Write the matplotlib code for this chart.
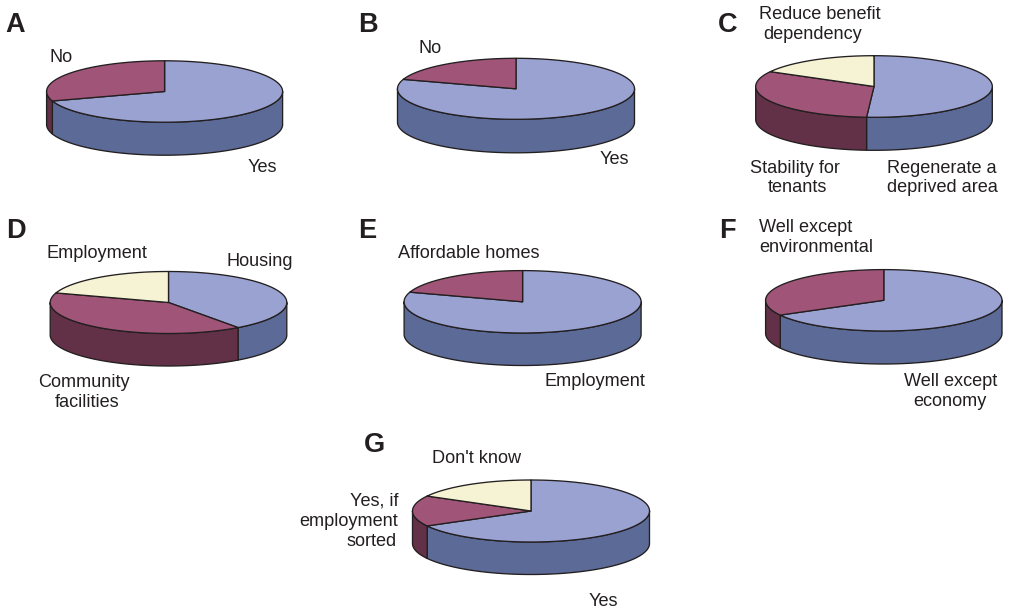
import numpy as np
import matplotlib
matplotlib.use("Agg")
import matplotlib.pyplot as plt

plt.rcParams["font.family"] = ["Liberation Sans", "DejaVu Sans"]

W, H = 1009, 610
INK = "#231f20"
TOP_COLOURS = ["#9aa2d2", "#a05578", "#f5f3d3"]
SIDE_COLOURS = ["#5b6a96", "#623147", "#c4c2a0"]

# Survey shares (percent) for each panel, clockwise from twelve o'clock
panel_names = ["A", "B", "C", "D", "E", "F", "G"]
values_a = [70, 30]
values_b = [80, 20]
values_c = [51, 32, 17]
values_d = [40, 40, 20]
values_e = [80, 20]
values_f = [67, 33]
values_g = [67, 16, 17]
all_values = [values_a, values_b, values_c, values_d, values_e, values_f, values_g]

# Pie placement in pixels: centre x, centre y, x radius, y radius, rim depth
pie_boxes = [
    (164.6, 91.5, 118, 30.7, 33),
    (516.0, 88.8, 118.5, 30.5, 33.5),
    (874.0, 86.5, 118.3, 30.8, 33),
    (168.5, 302.5, 118.3, 31, 32.5),
    (522.6, 301.8, 118.5, 31.2, 32.5),
    (883.8, 300.3, 118.2, 30.7, 33),
    (531.0, 511.0, 118.5, 31, 32.5),
]

# Panel letters: x, y in pixels
letter_spots = [(15, 25), (368, 25), (728, 25), (16, 231), (367, 231), (727, 231), (374, 445)]

# Slice labels, each drawn on its baseline: text, x, baseline y, horizontal alignment
slice_labels = [
    ("No", 61, 62, "center"),
    ("Yes", 262, 172.5, "center"),
    ("No", 430, 53, "center"),
    ("Yes", 614, 164, "center"),
    ("Reduce benefit", 820, 19.3, "center"),
    ("dependency", 813, 38.7, "center"),
    ("Stability for", 795, 173.3, "center"),
    ("tenants", 797, 191.7, "center"),
    ("Regenerate a", 942, 173.3, "center"),
    ("deprived area", 942, 191.7, "center"),
    ("Employment", 97, 258, "center"),
    ("Housing", 260, 266, "center"),
    ("Community", 84, 387.3, "center"),
    ("facilities", 87.5, 406.7, "center"),
    ("Affordable homes", 469, 258, "center"),
    ("Employment", 595, 386, "center"),
    ("Well except", 759, 232, "left"),
    ("environmental", 759, 252, "left"),
    ("Well except", 951, 386, "center"),
    ("economy", 950, 405.5, "center"),
    ("Don't know", 477, 463, "center"),
    ("Yes, if", 398, 506, "right"),
    ("employment", 398, 526, "right"),
    ("sorted", 397, 546, "right"),
    ("Yes", 603, 606, "center"),
]


def draw_pie(box, values):
    """Draw a tilted pie with a rim; y units are fractions of the y radius."""
    cx, cy, rx, ry, depth = box
    ax = fig.add_axes([(cx - rx) / W, 1 - (cy + ry + depth) / H, 2 * rx / W, (2 * ry + depth) / H])
    drop = depth / ry
    ax.set_xlim(-1, 1)
    ax.set_ylim(-1 - drop, 1)
    ax.axis("off")

    fractions = np.cumsum([0] + list(values)) / sum(values)
    starts = 90 - 360 * fractions[:-1]
    ends = 90 - 360 * fractions[1:]
    style = dict(edgecolor=INK, linewidth=0.95, joinstyle="round", clip_on=False)

    # Rim: only the near half of the disc (180 to 360 degrees) shows
    for i, (a0, a1) in enumerate(zip(starts, ends)):
        for shift in (0, -360, 360):
            lo = max(a1 + shift, 180)
            hi = min(a0 + shift, 360)
            if hi > lo:
                t = np.radians(np.linspace(lo, hi, 120))
                x = np.r_[np.cos(t), np.cos(t[::-1])]
                y = np.r_[np.sin(t), np.sin(t[::-1]) - drop]
                ax.fill(x, y, facecolor=SIDE_COLOURS[i], **style)

    # Top face
    for i, (a0, a1) in enumerate(zip(starts, ends)):
        t = np.radians(np.linspace(a1, a0, 240))
        ax.fill(np.r_[0, np.cos(t)], np.r_[0, np.sin(t)], facecolor=TOP_COLOURS[i], **style)


fig = plt.figure(figsize=(W / 100, H / 100), dpi=100, facecolor="white")

for box, vals in zip(pie_boxes, all_values):
    draw_pie(box, vals)

for name, (x, y) in zip(panel_names, letter_spots):
    fig.text(x / W, 1 - y / H, name, fontsize=19.5, fontweight="bold", color=INK,
             ha="center", va="center")

for text, x, y, align in slice_labels:
    fig.text(x / W, 1 - y / H, text, fontsize=13.1, color=INK, ha=align, va="baseline")

fig.savefig("out.png", dpi=100)
